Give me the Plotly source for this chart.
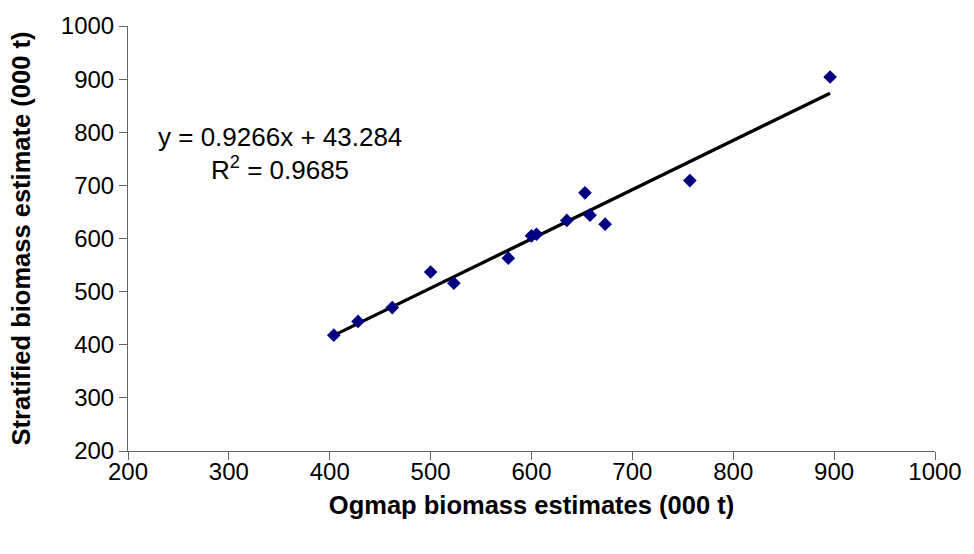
import plotly.graph_objects as go

ogmap = [404, 428, 462, 500, 523, 577, 600, 605, 635, 653, 658, 673, 757, 896]
stratified = [418, 444, 470, 537, 516, 563, 605, 608, 634, 686, 644, 627, 709, 904]
slope = 0.9266
intercept = 43.284
r2 = 0.9685
tick_vals = [200, 300, 400, 500, 600, 700, 800, 900, 1000]

x_line = [min(ogmap), max(ogmap)]
y_line = [slope * v + intercept for v in x_line]

fig = go.Figure()
fig.add_trace(go.Scatter(x=x_line, y=y_line, mode="lines",
                         line=dict(color="black", width=3.3), showlegend=False))
fig.add_trace(go.Scatter(x=ogmap, y=stratified, mode="markers",
                         marker=dict(symbol="diamond", size=10.5, color="#000080"),
                         showlegend=False))

font_family = "Liberation Sans, Arial, sans-serif"
fig.add_annotation(x=351, y=792, xref="x", yref="y",
                   text=f"y = {slope}x + {intercept}", showarrow=False,
                   font=dict(family=font_family, size=26, color="black"))
fig.add_annotation(x=351, y=731, xref="x", yref="y",
                   text=f"R<sup>2</sup> = {r2}", showarrow=False,
                   font=dict(family=font_family, size=26, color="black"))

axis_common = dict(range=[200, 1000], tickvals=tick_vals, showgrid=False, zeroline=False,
                   showline=True, linecolor="#666666", linewidth=1,
                   ticks="outside", ticklen=8, tickcolor="#666666",
                   tickfont=dict(family=font_family, size=24, color="black"))

fig.update_xaxes(**axis_common, ticklabelstandoff=-9,
                 title=dict(text="<b>Ogmap biomass estimates (000 t)</b>", standoff=12,
                            font=dict(family=font_family, size=25.5, color="black")))
fig.update_yaxes(**axis_common,
                 title=dict(text="<b>Stratified biomass estimate (000 t)</b>", standoff=22,
                            font=dict(family=font_family, size=25.5, color="black")))

fig.update_layout(width=974, height=554,
                  margin=dict(l=128, r=34, t=23, b=103),
                  plot_bgcolor="white", paper_bgcolor="white")

fig.write_html("out.html")
